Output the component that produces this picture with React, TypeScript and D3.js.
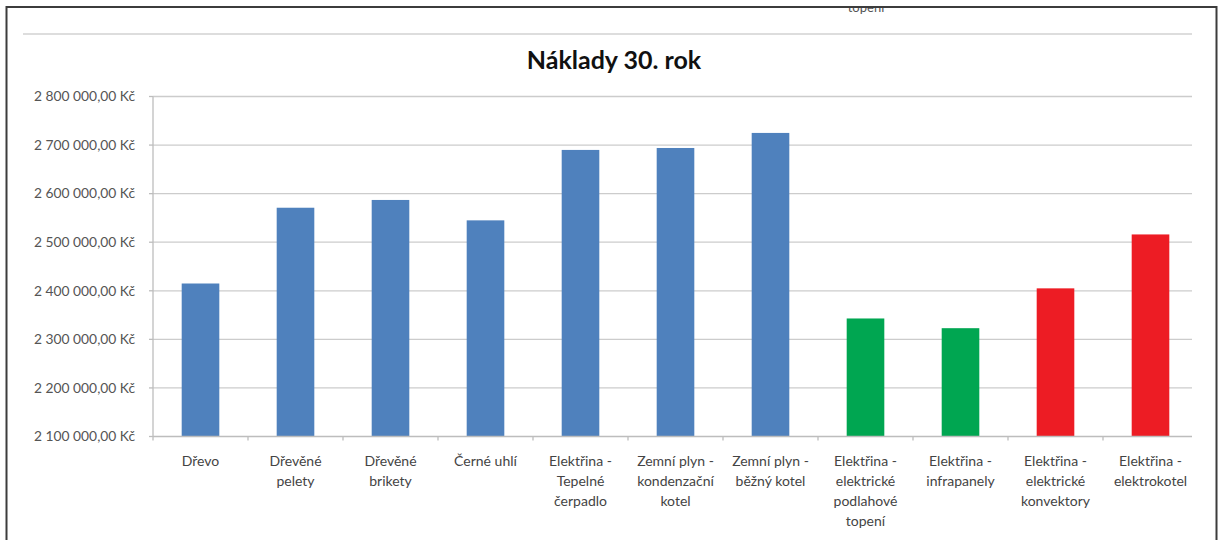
import React from "react";
import * as d3 from "d3";

// Heating cost after 30 years, per heating type (CZK)
const categories = [
  "Dřevo",
  "Dřevěné\npelety",
  "Dřevěné\nbrikety",
  "Černé uhlí",
  "Elektřina -\nTepelné\nčerpadlo",
  "Zemní plyn -\nkondenzační\nkotel",
  "Zemní plyn -\nběžný kotel",
  "Elektřina -\nelektrické\npodlahové\ntopení",
  "Elektřina -\ninfrapanely",
  "Elektřina -\nelektrické\nkonvektory",
  "Elektřina -\nelektrokotel",
];
const costs = [
  2415000, 2571000, 2587000, 2545000, 2690000, 2694000, 2725000, 2343000,
  2323000, 2405000, 2516000,
];
const costClass = [
  "base", "base", "base", "base", "base", "base", "base",
  "cheap", "cheap", "expensive", "expensive",
];
const yTicks = [2100000, 2200000, 2300000, 2400000, 2500000, 2600000, 2700000, 2800000];
const title = "Náklady 30. rok";
const clippedCaption = "topení";

const W = 1221;
const H = 540;
const plot = { left: 153, right: 1198, gridRight: 1192, top: 96.5, bottom: 436.5 };
const classColor: Record<string, string> = {
  base: "#4F81BD",
  cheap: "#00A651",
  expensive: "#ED1C24",
};
const FONT = "Lato, 'Open Sans', sans-serif";

const czk = d3
  .formatLocale({
    decimal: ",",
    thousands: "\u00a0",
    grouping: [3],
    currency: ["", "\u00a0Kč"],
  })
  .format("$,.2f");

export default function App() {
  const x = d3
    .scaleBand<number>()
    .domain(d3.range(categories.length))
    .range([plot.left, plot.right])
    .paddingInner(0.604)
    .paddingOuter(0.302);
  const y = d3
    .scaleLinear()
    .domain([yTicks[0], yTicks[yTicks.length - 1]])
    .range([plot.bottom, plot.top]);
  const step = x.step();
  const boundaries = d3.range(categories.length + 1).map((i) => plot.left + i * step);

  return (
    <svg
      width={W}
      height={H}
      style={{ position: "absolute", left: 0, top: 0, display: "block" }}
    >
      <defs>
        <clipPath id="frame-clip">
          <rect x={0} y={8} width={W} height={H} />
        </clipPath>
      </defs>
      <rect x={0} y={0} width={W} height={H} fill="#ffffff" />

      {/* caption of the chart above, cut by the frame */}
      <g clipPath="url(#frame-clip)">
        <text
          x={866}
          y={12}
          textAnchor="middle"
          fontFamily={FONT}
          fontSize={13}
          fill="#555"
        >
          {clippedCaption}
        </text>
      </g>

      {/* outer frame */}
      <path
        d={`M6.5,${H} V7 H1216.5 V${H}`}
        fill="none"
        stroke="#3c3c3c"
        strokeWidth={2}
      />
      <line x1={23} x2={plot.gridRight} y1={34} y2={34} stroke="#d2d2d2" strokeWidth={1.5} />

      <text
        x={614}
        y={69}
        textAnchor="middle"
        fontFamily={FONT}
        fontWeight={700}
        fontSize={25}
        fill="#111"
      >
        {title}
      </text>

      {/* gridlines and value axis */}
      {yTicks.map((t) => (
        <g key={t}>
          {t !== yTicks[0] && (
            <line
              x1={plot.left}
              x2={plot.gridRight}
              y1={y(t)}
              y2={y(t)}
              stroke="#cccccc"
              strokeWidth={1.3}
            />
          )}
          <line x1={149} x2={plot.left} y1={y(t)} y2={y(t)} stroke="#bdbdbd" strokeWidth={1.3} />
          <text
            x={135}
            y={y(t)}
            dy="0.35em"
            textAnchor="end"
            fontFamily={FONT}
            fontSize={13.8}
            fill="#555"
          >
            {czk(t)}
          </text>
        </g>
      ))}
      <line x1={plot.left} x2={plot.left} y1={plot.top} y2={plot.bottom} stroke="#bdbdbd" strokeWidth={1.3} />

      {/* bars */}
      {costs.map((v, i) => (
        <rect
          key={i}
          x={x(i)}
          y={y(v)}
          width={x.bandwidth()}
          height={y(yTicks[0]) - y(v)}
          fill={classColor[costClass[i]]}
        />
      ))}

      {/* category axis */}
      <line x1={plot.left} x2={plot.gridRight} y1={plot.bottom} y2={plot.bottom} stroke="#bdbdbd" strokeWidth={1.3} />
      {boundaries.map((bx, i) =>
        bx <= plot.gridRight ? (
          <line key={i} x1={bx} x2={bx} y1={plot.bottom} y2={plot.bottom + 4} stroke="#bdbdbd" strokeWidth={1.3} />
        ) : null
      )}
      {categories.map((c, i) => (
        <text
          key={c}
          x={(x(i) ?? 0) + x.bandwidth() / 2}
          y={461}
          textAnchor="middle"
          fontFamily={FONT}
          fontSize={14}
          fill="#444"
        >
          {c.split("\n").map((line, k) => (
            <tspan key={k} x={(x(i) ?? 0) + x.bandwidth() / 2} dy={k === 0 ? "0.35em" : 20}>
              {line}
            </tspan>
          ))}
        </text>
      ))}
    </svg>
  );
}
